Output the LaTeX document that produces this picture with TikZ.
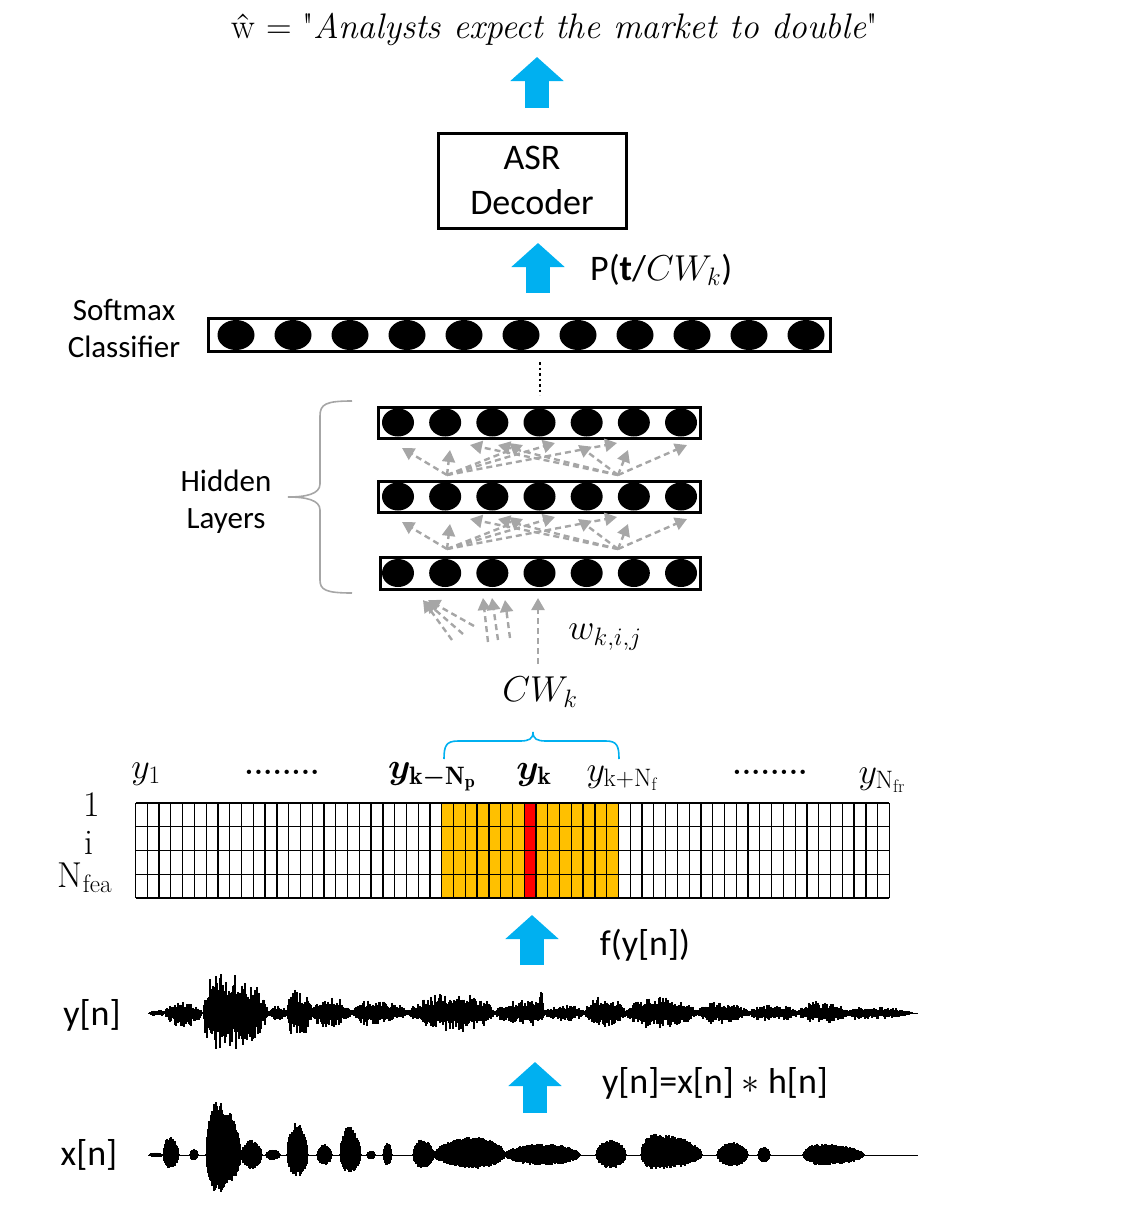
\documentclass[tikz,border=0pt]{standalone}
\usepackage{fix-cm}
\usepackage{amsmath}
\usepackage{bm}
\usepackage{fontspec}
\newfontfamily\calib{Carlito}
\usetikzlibrary{arrows.meta,shapes.geometric}
\definecolor{cyanB}{RGB}{0,176,240}
\definecolor{orangeB}{RGB}{255,192,0}
\definecolor{greyA}{RGB}{166,166,166}
\begin{document}
\begin{tikzpicture}[x=1pt,y=-1pt,
  every node/.style={inner sep=0pt},
  lbl/.style={font=\calib\fontsize{31}{37}\selectfont, align=center},
  blbl/.style={font=\calib\fontsize{36}{45}\selectfont, align=center},
  mth/.style={font=\fontsize{36}{40}\selectfont},
  layerbox/.style={draw, line width=3pt, inner sep=0pt},
  neuron/.style={ellipse, fill=black, inner sep=0pt},
  bluearrow/.style={draw=cyanB, line width=24pt, -{Triangle[width=52pt 0 0,length=24pt 0 0]}},
  greyarrow/.style={draw=greyA, line width=2.4pt, dash pattern=on 6pt off 4pt, -{Triangle[width=13pt 0 0,length=12pt 0 0]}},
  wave/.style={line width=1.1pt},
  gridline/.style={line width=1.3pt},
]
\useasboundingbox (0,0) rectangle (1127,1216);

% output sentence
\node[font=\fontsize{35.5}{40}\selectfont] (out) at (555,29) {\^w = \textquotedbl\textit{Analysts expect the market to double}\textquotedbl};

% ASR decoder
\node[layerbox, blbl, minimum width=188pt, minimum height=95pt] (asr) at (532,180.5) {ASR\\Decoder};
\coordinate (a1t) at (537,108); \coordinate (a1h) at (537,57);
\draw[bluearrow] (a1t) -- (a1h);
\coordinate (a2t) at (538,293); \coordinate (a2h) at (538,243);
\draw[bluearrow] (a2t) -- (a2h);
\node[blbl, anchor=west] (plbl) at (590,270) {P(\textbf{t}/$CW_k$)};

% softmax layer
\node[layerbox, minimum width=622pt, minimum height=33pt] (soft) at (519,334.5) {};
\foreach \i in {0,...,10} \node[neuron, minimum width=37pt, minimum height=30pt] (s\i) at ({236+57*\i},335) {};
\node[lbl] (softl) at (124,328) {Softmax\\Classifier};

\coordinate (d1) at (540,362); \coordinate (d2) at (540,395);
\draw[line width=2.5pt, dash pattern=on 2.5pt off 3pt] (d1) -- (d2);

% hidden layers
\node[layerbox, minimum width=322pt, minimum height=31pt] (h3) at (539,422.5) {};
\node[layerbox, minimum width=322pt, minimum height=31pt] (h2) at (539,496.5) {};
\node[layerbox, minimum width=320pt, minimum height=32pt] (h1) at (540,573) {};
\foreach \r/\yy in {1/573, 2/496.5, 3/422.5}
  \foreach \i in {0,...,6}
    \node[neuron, minimum width=32pt, minimum height=28pt] (n\r-\i) at ({398+47.17*\i},\yy) {};

% grey dashed connections between layers
\foreach \g/\dy in {a/0, b/74} {
  \coordinate (src\g L) at (447,{475+\dy});
  \coordinate (src\g R) at (618,{475+\dy});
  \foreach \tx/\ty [count=\k] in {402/448, 450/450, 523/445, 555/443, 617/443} {
    \coordinate (tg\g L\k) at (\tx,{\ty+\dy});
    \draw[greyarrow] (src\g L) -- (tg\g L\k);
  }
  \foreach \tx/\ty [count=\k] in {687/445, 628/450, 470/445, 498/445, 578/445} {
    \coordinate (tg\g R\k) at (\tx,{\ty+\dy});
    \draw[greyarrow] (src\g R) -- (tg\g R\k);
  }
}

% input connections
\foreach \ax/\ay/\bx/\by [count=\k] in {452/640/423/600, 463/634/425/601, 474/626/428/600, 488/642/483/598, 498/640/492/598, 510/638/505/600, 538/664/538/598} {
  \coordinate (in\k) at (\ax,\ay); \coordinate (inh\k) at (\bx,\by);
  \draw[greyarrow] (in\k) -- (inh\k);
}
\node[mth] (wl) at (605,637) {$w_{k,i,j}$};
\node[mth] (cw) at (540,692) {$CW_k$};

% hidden layers brace
\draw[greyA, line width=1.6pt] (352,401) .. controls (326,401) and (320,404) .. (320,416) -- (320,484)
  .. controls (320,494) and (306,497) .. (288,497) .. controls (306,497) and (320,500) .. (320,510)
  -- (320,580) .. controls (320,590) and (326,593) .. (352,593);
\node[lbl] (hidl) at (226,502) {Hidden\\Layers};

% blue brace
\draw[cyanB, line width=1.6pt] (444,759) .. controls (444,746) and (446,741) .. (458,741) -- (520,741)
  .. controls (529,741) and (533,739) .. (533,732) .. controls (533,739) and (537,741) .. (546,741)
  -- (606,741) .. controls (617,741) and (619,746) .. (619,759);

% frame labels
\node[mth] (y1) at (146,774) {$y_1$};
\node[font=\bfseries\fontsize{30}{30}\selectfont] (dots1) at (282,772) {........};
\node[mth] (ykm) at (432,777) {$\bm{y_{\mathrm{k}-\mathrm{N}_\mathrm{p}}}$};
\node[mth] (yk) at (534,775) {$\bm{y_{\mathrm{k}}}$};
\node[mth] (ykp) at (622,778) {$y_{\mathrm{k}+\mathrm{N}_\mathrm{f}}$};
\node[font=\bfseries\fontsize{30}{30}\selectfont] (dots2) at (770,772) {........};
\node[mth] (yN) at (882,780) {$y_{\mathrm{N}_{\mathrm{fr}}}$};

\node[mth] (r1) at (92,805) {1};
\node[mth] (ri) at (89,843) {i};
\node[mth] (rn) at (85,878) {N$_{\mathrm{fea}}$};

% feature grid
\fill[orangeB] (441.8,803) rectangle (618.5,898);
\fill[red] (524.2,803) rectangle (536,898);
\foreach \c in {0,...,64} \draw[gridline] ({135.5+11.78*\c},803) -- ({135.5+11.78*\c},898);
\foreach \r in {0,...,4} \draw[gridline] (135.5,{803+23.75*\r}) -- (889.4,{803+23.75*\r});

% arrows and labels below
\coordinate (a3t) at (532,965); \coordinate (a3h) at (532,915);
\draw[bluearrow] (a3t) -- (a3h);
\node[blbl] (fl) at (645,945) {f(y[n])};
\node[blbl] (ylbl) at (92,1015) {y[n]};
\coordinate (a4t) at (535,1113); \coordinate (a4h) at (535,1062);
\draw[bluearrow] (a4t) -- (a4h);
\node[blbl] (eq) at (715,1083) {y[n]=x[n] $\ast$ h[n]};
\node[blbl] (xlbl) at (89,1155) {x[n]};

% waveform y[n]
\pgfmathsetseed{7}
\draw[line width=0.7pt] (148,1013) -- (918,1013);
\foreach \a/\b/\p/\t/\u in {150/165/0.5/3/3, 165/202/0.5/11/14, 203/268/0.2/44/40, 268/288/0.5/7/7, 287/313/0.3/23/26, 312/352/0.4/16/15, 352/408/0.3/13/12, 408/494/0.6/20/18, 494/545/0.8/14/12, 537/544/0.5/22/8, 545/585/0.5/8/8, 585/626/0.4/16/15, 626/697/0.4/16/15, 697/748/0.4/11/11, 748/798/0.5/8/8, 798/849/0.4/11/10, 849/912/0.1/6/6} {
  \foreach \xx in {\a,...,\b} {
    \pgfmathsetmacro\wt{(\xx-\a)/(\b-\a)}
    \pgfmathsetmacro\env{(\wt<\p) ? sin(90*\wt/\p) : cos(90*(\wt-\p)/(1-\p))}
    \pgfmathsetmacro\env{sqrt(abs(\env))}
    \pgfmathsetmacro\ra{rnd}
    \pgfmathsetmacro\rb{rnd}
    \pgfmathsetmacro\up{\t*\env*(0.4+0.6*\ra*\ra)+0.8}
    \pgfmathsetmacro\dn{\u*\env*(0.4+0.6*\rb*\rb)+0.8}
    \draw[wave] (\xx,1013-\up) -- (\xx,1013+\dn);
  }
}

% waveform x[n]
\draw[line width=0.7pt] (148,1155) -- (918,1155);
\foreach \a/\b/\p/\t/\u in {150/162/0.5/2/2, 163/179/0.4/18/13, 190/198/0.5/6/5, 206/241/0.3/53/37, 241/262/0.5/15/14, 266/280/0.5/5/5, 287/308/0.45/32/22, 317/332/0.5/10/10, 340/361/0.4/28/18, 367/375/0.5/4/4, 383/392/0.5/12/10, 413/434/0.4/15/13, 434/505/0.6/18/13, 505/580/0.5/11/10, 596/626/0.5/15/13, 641/702/0.2/21/14, 717/748/0.5/13/11, 758/770/0.5/8/7, 803/864/0.3/11/10} {
  \foreach \xx in {\a,...,\b} {
    \pgfmathsetmacro\wt{(\xx-\a)/(\b-\a)}
    \pgfmathsetmacro\env{(\wt<\p) ? sin(90*\wt/\p) : cos(90*(\wt-\p)/(1-\p))}
    \pgfmathsetmacro\env{sqrt(abs(\env))}
    \pgfmathsetmacro\ra{rnd}
    \pgfmathsetmacro\rb{rnd}
    \pgfmathsetmacro\up{\t*\env*(0.75+0.25*\ra)+0.6}
    \pgfmathsetmacro\dn{\u*\env*(0.75+0.25*\rb)+0.6}
    \draw[wave] (\xx,1155-\up) -- (\xx,1155+\dn);
  }
}
\end{tikzpicture}
\end{document}
